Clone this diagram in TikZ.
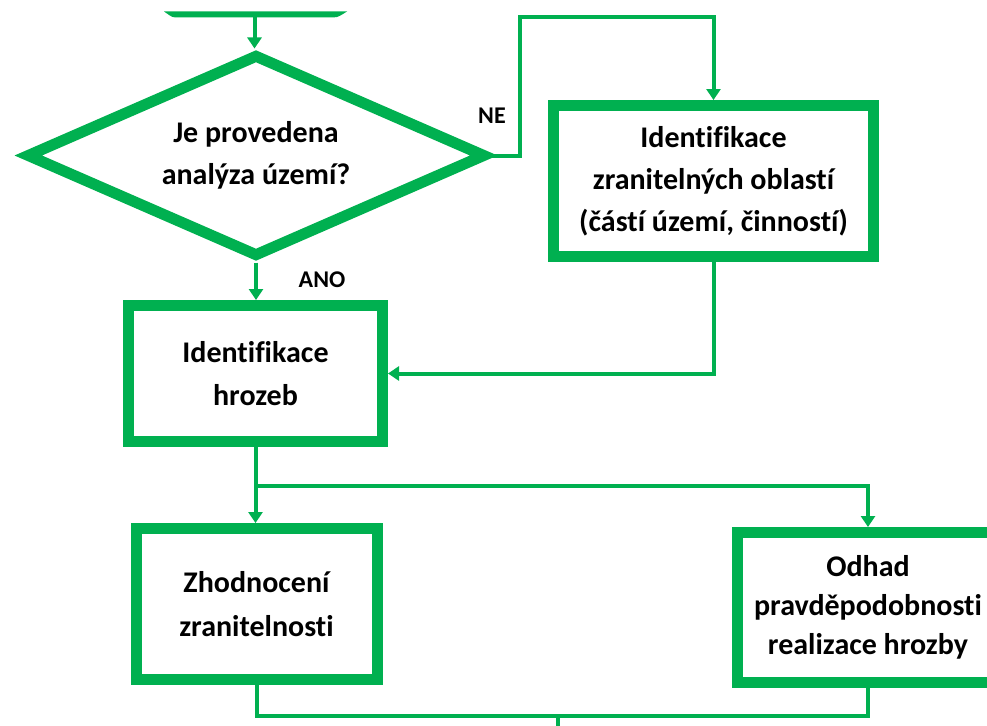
\documentclass[tikz,border=0pt]{standalone}
\usepackage{fontspec}
\setmainfont{Carlito}[Ligatures=NoCommon]
\usetikzlibrary{shapes.geometric,arrows.meta}
\definecolor{grn}{RGB}{0,176,80}
\begin{document}
\begin{tikzpicture}[x=1pt,y=-1pt,
  box/.style={draw=grn,line width=11pt,fill=white,align=center,inner sep=0pt,
    font=\fontsize{30}{42}\selectfont\bfseries},
  conn/.style={draw=grn,line width=4pt},
  arr/.style={conn,-{Triangle[length=11pt,width=14pt]}},
  lbl/.style={font=\fontsize{24}{28}\selectfont\bfseries,inner sep=0pt}]
\useasboundingbox (0,0) rectangle (987,725);
\clip (0,0) rectangle (987,725);
% visible bottom edge of the start terminator
\fill[grn] (164,11.5) -- (347,11.5) to[out=-150,in=0] (333,17.5) -- (176,17.5) to[out=180,in=-30] cycle;
\coordinate (start) at (254.5,17);
% decision
\node[diamond,draw=grn,line width=11pt,fill=white,minimum width=460pt,minimum height=203pt,
  shape aspect=2.27,inner sep=0pt,align=center,font=\fontsize{30}{42}\selectfont\bfseries] (q) at (256,155.5) {Je provedena\\analýza území?};
% boxes
\node[box,minimum width=320pt,minimum height=151pt] (b2) at (713.5,181) {Identifikace\\zranitelných oblastí\\(částí území, činností)};
\node[box,minimum width=254pt,minimum height=136pt,font=\fontsize{30}{43}\selectfont\bfseries] (b3) at (255.5,373.5) {Identifikace\\hrozeb};
\node[box,minimum width=241pt,minimum height=151pt,font=\fontsize{30}{44}\selectfont\bfseries] (b4) at (256.5,604) {Zhodnocení\\zranitelnosti};
\node[box,minimum width=261pt,minimum height=150pt,font=\fontsize{30}{39}\selectfont\bfseries] (b5) at (868,607.5) {Odhad\\pravděpodobnosti\\realizace hrozby};
% labels
\node[lbl,anchor=base] (ne) at (492,123) {NE};
\node[lbl,anchor=base] (ano) at (322,287) {ANO};
% connectors
\coordinate (ne1) at (520,17);
\coordinate (br) at (255.5,486);
\coordinate (m) at (558,716);
\coordinate (out) at (558,740);
\draw[arr] (start) -- (start |- q.north);
\draw[arr] (q.south) -- (q.south |- b3.north);
\draw[arr] (q.east) -| (ne1) -| (b2.north);
\draw[arr] (b2.south) |- (b3.east);
\draw[arr] (b3.south) -- (b3.south |- b4.north);
\draw[arr] (br) -| (b5.north);
\draw[conn] (b4.south) |- (m);
\draw[conn] (b5.south) |- (m) -- (out);
\end{tikzpicture}
\end{document}
